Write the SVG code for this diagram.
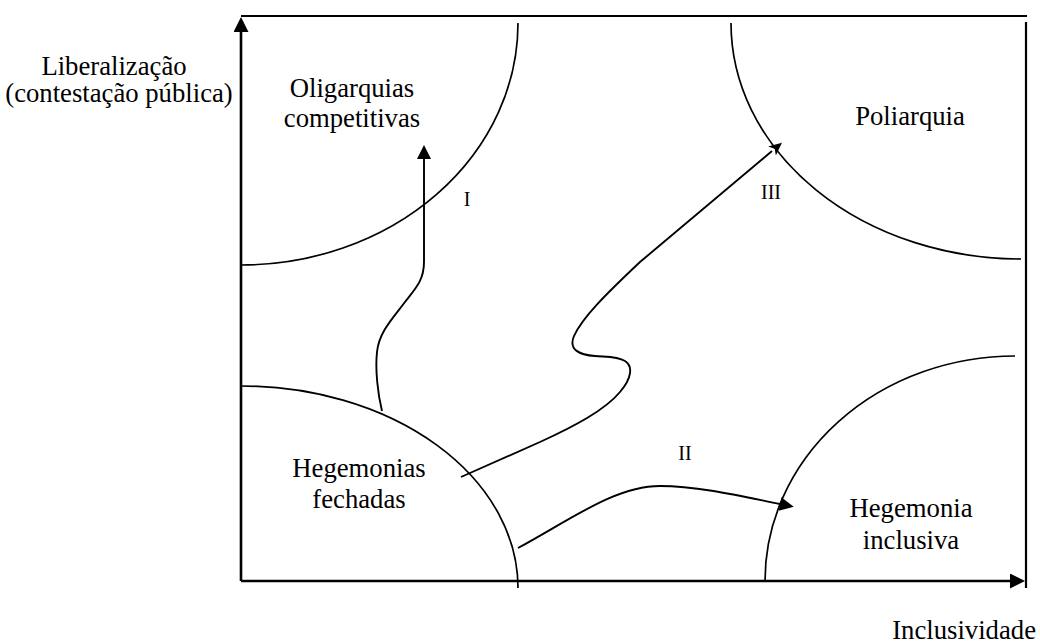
<svg xmlns="http://www.w3.org/2000/svg" width="1040" height="643" viewBox="0 0 1040 643">
<style>
.lbl{font-size:26.7px;text-anchor:middle}
.num{font-size:20px;text-anchor:middle}
.axis{fill:none;stroke:#000;stroke-width:2.6}
.frame{fill:none;stroke:#000;stroke-width:2.2}
.arc{fill:none;stroke:#000;stroke-width:1.7}
.path{fill:none;stroke:#000;stroke-width:1.9}
</style>
<defs>
<marker id="tri" markerUnits="userSpaceOnUse" markerWidth="16" markerHeight="16" refX="0" refY="7.5" orient="auto"><path d="M0,0 L15,7.5 L0,15 z" fill="#000"/></marker>
<marker id="tri2" markerUnits="userSpaceOnUse" markerWidth="15" markerHeight="15" refX="0" refY="7" orient="auto"><path d="M0,0 L14,7 L0,14 z" fill="#000"/></marker>
<marker id="stealth" markerUnits="userSpaceOnUse" markerWidth="14" markerHeight="13" refX="0" refY="6" orient="auto"><path d="M0,0 L13,6 L0,12 L3.5,6 z" fill="#000"/></marker>
</defs>
<g font-family="'Liberation Serif', 'DejaVu Serif', serif" fill="#000">
<g id="axes">
<path class="axis" d="M241,581 L241,32" marker-end="url(#tri)"/>
<path class="axis" d="M241,581 L1010,581" marker-end="url(#tri)"/>
<path class="frame" d="M241,16 L1027,16"/>
<path class="frame" d="M1026,22 L1026,588"/>
<text class="lbl" x="114" y="75">Liberalização</text>
<text class="lbl" x="119" y="102">(contestação pública)</text>
<text class="lbl" x="1036" y="639" text-anchor="end" style="text-anchor:end">Inclusividade</text>
</g>
<g id="oligarquias">
<path class="arc" d="M518,23 A277,242 0 0 1 241,265"/>
<text class="lbl" x="352" y="97">Oligarquias</text>
<text class="lbl" x="352" y="127">competitivas</text>
</g>
<g id="poliarquia">
<path class="arc" d="M731,23 A290,236 0 0 0 1021,259"/>
<text class="lbl" x="910" y="125">Poliarquia</text>
</g>
<g id="hegemonias-fechadas">
<path class="arc" d="M241,386 A277,202 0 0 1 518,588"/>
<text class="lbl" x="359" y="477">Hegemonias</text>
<text class="lbl" x="359" y="508">fechadas</text>
</g>
<g id="hegemonia-inclusiva">
<path class="arc" d="M765,581 A250,225 0 0 1 1015,356"/>
<text class="lbl" x="911" y="517">Hegemonia</text>
<text class="lbl" x="911" y="549">inclusiva</text>
</g>
<g id="connectors">
<path class="path" d="M382,411 C378,395 375,370 377,352 C379,332 393,318 405,302 C416,288 424,280 424,262 L424,159" marker-end="url(#tri2)"/>
<path class="path" d="M518,548 C570,520 615,486 660,486 C700,486 745,497 780,504" marker-end="url(#tri2)"/>
<path class="path" d="M461,477 L540,442 C575,426 605,410 620,392 C632,378 633,366 625,361 C617,356 605,357 595,356 C580,355 568,350 574,336 C582,318 605,295 640,262 L772,151" marker-end="url(#stealth)"/>
<text class="num" x="467" y="206">I</text>
<text class="num" x="685" y="460">II</text>
<text class="num" x="771" y="199">III</text>
</g>
</g>
</svg>
